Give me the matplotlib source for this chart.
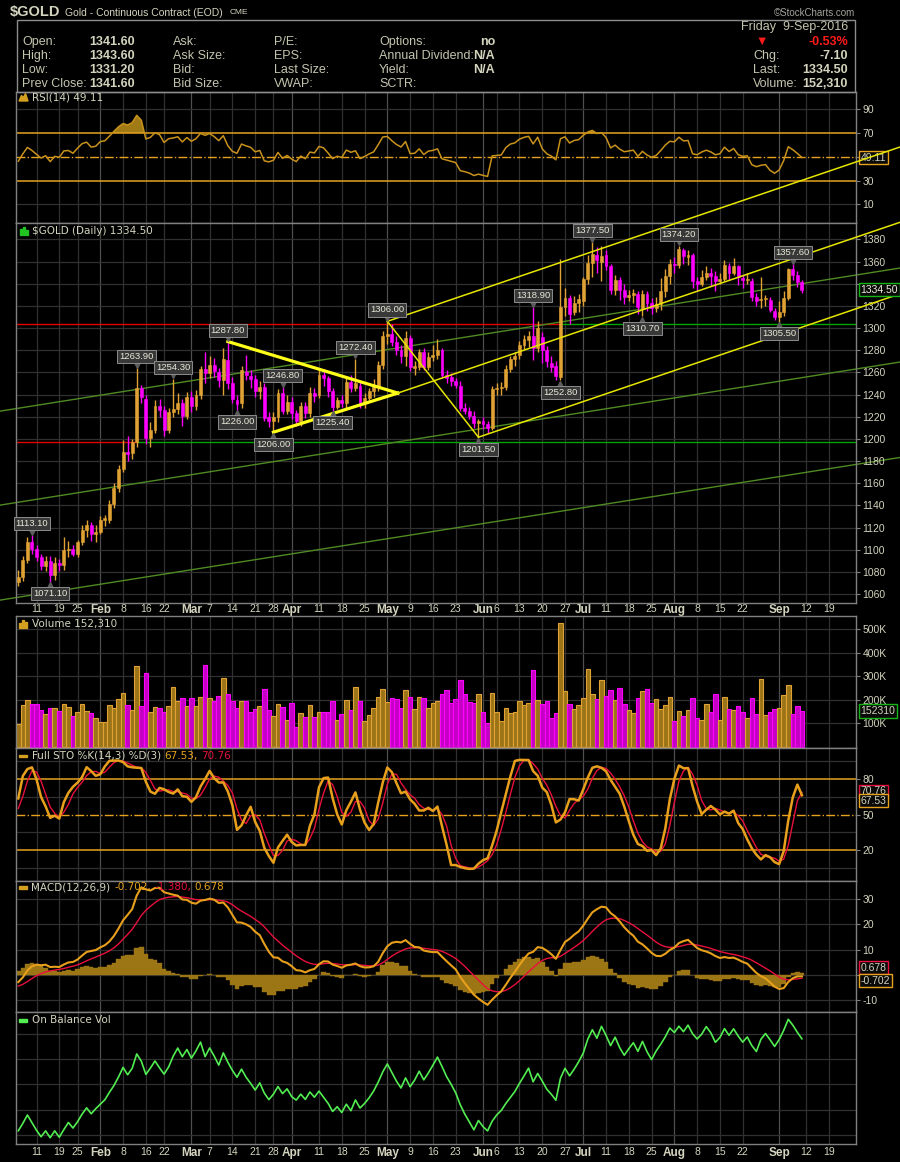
import numpy as np
import pandas as pd
import matplotlib
matplotlib.use('Agg')
import matplotlib.pyplot as plt
import matplotlib.transforms as mtransforms
from matplotlib import font_manager
from matplotlib.patches import Rectangle, Polygon
from matplotlib.text import Annotation
from matplotlib.ticker import MaxNLocator

# ---------------- data ----------------
HOLIDAYS = ['2016-01-18', '2016-02-15', '2016-03-25', '2016-05-30', '2016-07-04', '2016-09-05']

# daily candles, 5-Jan-2016 .. 9-Sep-2016
OPEN = [1071, 1075, 1091, 1107, 1101, 1093, 1085, 1090, 1077, 1088, 1086, 1100, 1101, 1096, 1107, 1118, 1122, 1114,
        1116, 1127, 1127, 1141, 1156, 1173, 1188, 1187, 1197, 1246, 1236, 1201, 1208, 1230, 1226, 1208, 1224, 1227,
        1232, 1221, 1238, 1230, 1240, 1263, 1259, 1267, 1260, 1253, 1271, 1250, 1235, 1232, 1260, 1257, 1254, 1243,
        1247, 1220, 1216, 1220, 1241, 1225, 1233, 1223, 1216, 1230, 1223, 1241, 1240, 1258, 1255, 1243, 1229, 1235,
        1232, 1251, 1246, 1248, 1232, 1237, 1243, 1248, 1267, 1293, 1295, 1287, 1280, 1275, 1291, 1264, 1265, 1278,
        1265, 1274, 1276, 1280, 1258, 1256, 1252, 1248, 1228, 1225, 1221, 1214, 1216, 1213, 1210, 1245, 1246, 1247,
        1263, 1272, 1276, 1285, 1289, 1293, 1282, 1292, 1280, 1268, 1266, 1256, 1319, 1327, 1314, 1323, 1324, 1344,
        1359, 1366, 1360, 1366, 1356, 1334, 1343, 1334, 1328, 1330, 1331, 1318, 1331, 1323, 1318, 1322, 1333, 1347,
        1358, 1357, 1370, 1364, 1366, 1342, 1340, 1346, 1350, 1347, 1342, 1344, 1356, 1350, 1356, 1345, 1343, 1342,
        1328, 1325, 1326, 1325, 1315, 1310, 1314, 1327, 1353, 1348, 1341.6]
HIGH = [1082, 1094, 1111, 1113.1, 1104, 1096, 1094, 1094, 1093, 1092, 1111, 1108, 1104, 1109, 1122, 1127, 1125, 1122,
        1130, 1131, 1145, 1160, 1176, 1199, 1203, 1200, 1263.9, 1249, 1240, 1215, 1235, 1236, 1230, 1228, 1254.3, 1241,
        1236, 1242, 1243, 1244, 1266, 1278, 1275, 1273, 1264, 1282, 1287.8, 1256, 1240, 1266, 1276, 1262, 1258, 1252,
        1250, 1224, 1224, 1245, 1246.8, 1240, 1238, 1226, 1233, 1233, 1247, 1246, 1262, 1263, 1257, 1246, 1238, 1240,
        1256, 1258, 1272.4, 1251, 1241, 1246, 1254, 1270, 1297, 1306, 1304, 1293, 1285, 1297, 1294, 1270, 1281, 1282,
        1278, 1285, 1290, 1282, 1262, 1259, 1255, 1252, 1232, 1229, 1225, 1218, 1220, 1216, 1248, 1250, 1251, 1267,
        1275, 1278, 1288, 1294, 1297, 1318.9, 1306, 1296, 1284, 1275, 1270, 1362.6, 1336, 1330, 1329, 1331, 1346, 1366,
        1377.5, 1373, 1374, 1370, 1358, 1348, 1346, 1340, 1334, 1335, 1333, 1334, 1333, 1327, 1328, 1345, 1353, 1362,
        1364, 1374.2, 1372, 1370, 1368, 1346, 1352, 1356, 1354, 1351, 1350, 1361, 1359, 1363, 1357, 1348, 1350, 1345,
        1332, 1346, 1330, 1328, 1318, 1324, 1333, 1354, 1357.6, 1351, 1343.6]
LOW = [1067, 1072, 1088, 1096, 1090, 1082, 1081, 1071.1, 1073, 1081, 1082, 1093, 1094, 1093, 1104, 1111, 1108, 1107,
       1114, 1121, 1124, 1138, 1152, 1170, 1180, 1182, 1193, 1232, 1195, 1193, 1205, 1220, 1203, 1205, 1220, 1222,
       1212, 1218, 1224, 1226, 1236, 1250, 1255, 1256, 1247, 1240, 1245, 1232, 1226, 1228, 1253, 1246, 1238, 1236,
       1216, 1211, 1206, 1215, 1222, 1222, 1218, 1212, 1212, 1219, 1220, 1233, 1237, 1248, 1238, 1225.4, 1227, 1229,
       1228, 1242, 1243, 1228, 1228, 1234, 1238, 1243, 1263, 1286, 1284, 1276, 1268, 1266, 1261, 1258, 1262, 1262,
       1262, 1270, 1272, 1255, 1250, 1248, 1246, 1225, 1222, 1218, 1210, 1201.5, 1209, 1205, 1208, 1240, 1240, 1244,
       1260, 1266, 1272, 1281, 1283, 1271, 1278, 1268, 1265, 1260, 1253.5, 1252.8, 1311, 1304, 1312, 1314, 1320, 1340,
       1346, 1350, 1342, 1352, 1331, 1330, 1325, 1322, 1324, 1323, 1313, 1310.7, 1315, 1313, 1314, 1316, 1328, 1340,
       1350, 1354, 1358, 1357, 1336, 1333, 1338, 1343, 1338, 1333, 1340, 1342, 1343, 1348, 1339, 1336, 1340, 1324,
       1320, 1318, 1320, 1314, 1307, 1305.5, 1311, 1325, 1343, 1337, 1331.2]
CLOSE = [1075.5, 1091, 1107, 1101, 1093, 1085, 1090, 1077, 1088, 1086, 1100, 1101, 1096, 1107, 1118, 1122, 1114, 1116,
         1127, 1129, 1141, 1156, 1173, 1188, 1186, 1197, 1246, 1238, 1201, 1208, 1230, 1226, 1208, 1224, 1227, 1232,
         1221, 1238, 1230, 1240, 1263, 1259, 1267, 1261, 1253, 1272, 1250, 1236, 1231, 1262, 1257.5, 1254, 1243, 1247,
         1219, 1216, 1220, 1241, 1225, 1233, 1223, 1216, 1230, 1223, 1241, 1239, 1258, 1255, 1243, 1229, 1235, 1232,
         1251, 1246, 1250, 1232, 1237, 1243, 1248, 1267, 1293, 1295, 1287, 1280, 1275, 1291, 1265, 1266, 1278, 1265,
         1274, 1276, 1280, 1258, 1255, 1252, 1249, 1228, 1225, 1221, 1214, 1216, 1213, 1210, 1245, 1246, 1247, 1263,
         1272, 1275, 1285, 1290, 1293, 1282, 1300, 1280, 1270, 1265, 1257, 1319, 1327, 1313, 1323, 1326, 1344, 1359,
         1367, 1361, 1365, 1356, 1334, 1343, 1334, 1328, 1330, 1332, 1319, 1331, 1323, 1318, 1322, 1333, 1347, 1358,
         1357, 1371, 1365, 1366, 1342, 1340, 1346, 1350, 1347, 1342, 1344, 1357, 1350, 1356, 1346, 1343, 1344, 1328,
         1324, 1326, 1327, 1316, 1310, 1314, 1327, 1353, 1348, 1341.6, 1334.5]
VOLUME_K = [96, 177, 198, 181, 181, 155, 141, 164, 164, 152, 181, 170, 132, 148, 181, 152, 142, 121, 106, 106, 177, 164,
            202, 229, 177, 155, 342, 172, 316, 150, 170, 164, 150, 172, 256, 193, 206, 172, 206, 172, 210, 346, 206, 193,
            215, 291, 223, 193, 164, 193, 193, 146, 159, 172, 244, 155, 130, 181, 168, 113, 185, 83, 142, 125, 177, 125,
            146, 146, 146, 193, 113, 138, 198, 155, 256, 193, 109, 134, 164, 210, 244, 189, 206, 202, 164, 240, 210, 159,
            210, 206, 164, 185, 193, 223, 240, 185, 202, 283, 223, 190, 185, 223, 148, 100, 228, 150, 108, 164, 142, 146,
            193, 177, 185, 325, 198, 181, 193, 121, 142, 525, 236, 181, 159, 177, 206, 333, 223, 202, 283, 215, 243, 200,
            250, 180, 156, 142, 206, 238, 246, 188, 205, 160, 177, 210, 108, 151, 130, 156, 206, 124, 115, 180, 148, 226,
            116, 210, 161, 157, 172, 146, 124, 206, 140, 290, 137, 148, 160, 164, 220, 263, 140, 172, 152.31]

# weeks before the window (2-Nov-2015 .. 4-Jan-2016), only used to prime the indicators
WARM_CLOSE = [1136, 1116, 1104, 1107, 1088, 1093, 1090, 1085, 1084, 1081, 1084, 1068, 1068, 1078, 1076, 1067, 1074,
              1071, 1057, 1065, 1068, 1054, 1062, 1084, 1075, 1076, 1076, 1072, 1076, 1063, 1061, 1076, 1050, 1065,
              1081, 1074, 1069, 1076, 1069, 1077, 1060, 1060, 1075]
WARM_HIGH = [1086, 1079, 1083, 1080, 1079, 1078, 1068, 1080, 1073, 1068, 1083, 1084, 1077, 1079, 1079, 1080, 1078,
             1064, 1084]
WARM_LOW = [1071, 1066, 1071, 1068, 1067, 1058, 1058, 1057, 1047, 1046, 1064, 1071, 1067, 1068, 1066, 1067, 1059,
            1058, 1063]

# price tags on the chart (candle index)
HIGH_TAGS = [3, 26, 34, 46, 58, 74, 81, 113, 126, 145, 170]
LOW_TAGS = [7, 48, 56, 69, 101, 119, 137, 167]

# drawn annotations (candle index, price)
LEVELS = [1304.0, 1197.5]
GREEN_LINES = [((-4.0, 1225.0), (193.5, 1354.1)),
               ((-4.0, 1140.2), (193.5, 1269.3)),
               ((-4.0, 1054.5), (193.5, 1183.2))]
APEX = (83.3, 1241.3)
CHANNEL_SLOPE = 1.398
LINE_END = 193.5

# legend values as printed on the chart
RSI_LAST = 49.11
STO_K_LAST, STO_D_LAST = 67.53, 70.76
MACD_LAST, SIGNAL_LAST, HIST_LAST = -0.702, -1.380, 0.678

# ---------------- look ----------------
W, H = 900, 1162
BG = 'black'
FRAME = '#808080'
GRID = '#303030'
GRID_M = '#4e4e4e'
TXT = '#d4d4be'
LBL = '#c4c4ae'
UP = '#e0a234'
DOWN = '#ff00ff'
UP_FILL = '#9c7418'
DOWN_FILL = '#c400c4'
GOLD = '#e6a21c'
RED = '#e8103c'
XMIN, XMAX = -0.5, 183.8
LEFT, RIGHT = 16, 855.7

names = {f.name for f in font_manager.fontManager.ttflist}
NARROW = 'Liberation Sans Narrow' if 'Liberation Sans Narrow' in names else 'Liberation Sans'
plt.rcParams['font.family'] = [NARROW, 'DejaVu Sans']

days = pd.bdate_range('2016-01-05', '2016-09-30')
days = days[~days.isin(pd.to_datetime(HOLIDAYS))]
n = len(CLOSE)
x = np.arange(n)
o, hi, lo, c = (np.array(a, dtype=float) for a in (OPEN, HIGH, LOW, CLOSE))
vol = np.array(VOLUME_K, dtype=float)
prev = np.concatenate([[WARM_CLOSE[-1]], c[:-1]])
up = c >= prev
col = np.where(up, UP, DOWN)

# ---------------- indicators ----------------
s_all = pd.Series(WARM_CLOSE + CLOSE, dtype=float)
d = s_all.diff()
g = d.clip(lower=0).ewm(alpha=1 / 14, adjust=False).mean()
l_ = (-d).clip(lower=0).ewm(alpha=1 / 14, adjust=False).mean()
rsi = (100 - 100 / (1 + g / l_)).to_numpy()[-n:]

macd_s = s_all.ewm(span=12, adjust=False).mean() - s_all.ewm(span=26, adjust=False).mean()
sig_s = macd_s.ewm(span=9, adjust=False).mean()
macd = macd_s.to_numpy()[-n:]
sig = sig_s.to_numpy()[-n:]
hist = macd - sig

hh = pd.Series(WARM_HIGH + HIGH, dtype=float).rolling(14).max()
ll = pd.Series(WARM_LOW + LOW, dtype=float).rolling(14).min()
cc = pd.Series(WARM_CLOSE[-len(WARM_HIGH):] + CLOSE, dtype=float)
full_k = (100 * (cc - ll) / (hh - ll)).rolling(3).mean()
full_d = full_k.rolling(3).mean()
sto_k = full_k.to_numpy()[-n:]
sto_d = full_d.to_numpy()[-n:]

obv = np.cumsum(np.sign(c - prev) * vol)

# ---------------- date ticks ----------------
month_pos, week_pos = [], []
for i in range(1, len(days)):
    if i > XMAX - 2:
        break
    if days[i].month != days[i - 1].month:
        month_pos.append(i)
    elif days[i].isocalendar()[1] != days[i - 1].isocalendar()[1]:
        week_pos.append(i)
# a week label gives way to a month label that sits close to it
week_pos = [w for w in week_pos if all((w - m) >= 3 or (m - w) >= 4 for m in month_pos)]
ticks = sorted([(p, True) for p in month_pos] + [(p, False) for p in week_pos])
tick_pos = [p for p, _ in ticks]
tick_lab = [days[p].strftime('%b') if m else str(days[p].day) for p, m in ticks]

# ---------------- figure ----------------
fig = plt.figure(figsize=(W / 100, H / 100), dpi=100, facecolor=BG)
PX = mtransforms.Affine2D().scale(1 / W, -1 / H).translate(0, 1) + fig.transFigure


def ftext(xp, yp, s, **kw):
    return fig.text(xp, yp, s, transform=PX, **kw)


def panel(y0, y1, ylim):
    ax = fig.add_axes([LEFT / W, 1 - y1 / H, (RIGHT - LEFT) / W, (y1 - y0) / H])
    ax.set_facecolor(BG)
    ax.set_xlim(XMIN, XMAX)
    ax.set_ylim(*ylim)
    for sp in ax.spines.values():
        sp.set_color(FRAME)
        sp.set_linewidth(1.0)
    ax.yaxis.tick_right()
    ax.tick_params(axis='y', colors=FRAME, labelcolor=TXT, labelsize=7.5, length=3, width=0.8, pad=2)
    ax.tick_params(axis='x', length=0, labelbottom=False)
    for p, m in ticks:
        ax.axvline(p, color=GRID_M if m else GRID, lw=0.9, zorder=0)
    return ax


def hgrid(ax, vals):
    for v in vals:
        ax.axhline(v, color=GRID, lw=0.9, zorder=0)


def right_ticks(ax, vals, labels=None, hidden=()):
    ax.set_yticks(vals)
    labs = labels if labels is not None else [f'{v:g}' for v in vals]
    ax.set_yticklabels(['' if v in hidden else s for v, s in zip(vals, labs)])


def date_labels(ax, pad):
    ax.set_xticks(tick_pos)
    ax.set_xticklabels(tick_lab)
    ax.tick_params(axis='x', labelbottom=True, labelsize=7.5, labelcolor=TXT, pad=pad)
    for t, (_, m) in zip(ax.get_xticklabels(), ticks):
        if m:
            t.set_fontweight('bold')
            t.set_fontsize(8.5)


def value_box(ax, y, s, edge, tcol=TXT, z=10, dy=0):
    ax.annotate(s, xy=(1, y), xycoords=('axes fraction', 'data'), xytext=(3.5, dy),
                textcoords='offset points', ha='left', va='center', fontsize=7.5, color=tcol,
                bbox=dict(boxstyle='square,pad=0.15', fc='#0a0a0a', ec=edge, lw=1.0),
                annotation_clip=False, zorder=z)


def title(ypx, parts):
    t = ftext(31.5, ypx, parts[0][0], color=parts[0][1], fontsize=7.5, family='DejaVu Sans', va='center')
    for s, cl in parts[1:]:
        a = Annotation(s, xy=(1, 0.5), xycoords=t, xytext=(2.5, 0), textcoords='offset points',
                       va='center', ha='left', color=cl, fontsize=7.5, family='DejaVu Sans')
        fig.add_artist(a)
        t = a


# ---- header ----
ftext(10, 12, '$GOLD', fontsize=10.5, fontweight='bold', color=TXT, va='center', family='Liberation Sans')
ftext(65, 12.5, 'Gold - Continuous Contract (EOD)', fontsize=7.5, color=TXT, va='center', family='Liberation Sans')
ftext(230, 13, 'CME', fontsize=6, color=TXT, va='center', family='Liberation Sans')
ftext(855, 12.5, '\u00a9StockCharts.com', fontsize=7, color='#a4a49c', ha='right', va='center', family='Liberation Sans')
fig.add_artist(Rectangle((17, 20), 838, 71.7, transform=PX, fill=False, ec='#8c8c8c', lw=1))

rows = [42, 56, 70, 84]
hdr = dict(fontsize=9, va='center', family='Liberation Sans')
col1 = ['Open:', 'High:', 'Low:', 'Prev Close:']
val1 = [f'{OPEN[-1]:.2f}', f'{HIGH[-1]:.2f}', f'{LOW[-1]:.2f}', f'{CLOSE[-2]:.2f}']
col2 = ['Ask:', 'Ask Size:', 'Bid:', 'Bid Size:']
col3 = ['P/E:', 'EPS:', 'Last Size:', 'VWAP:']
col4 = ['Options:', 'Annual Dividend:', 'Yield:', 'SCTR:']
val4 = ['no', 'N/A', 'N/A', '']
for k, yy in enumerate(rows):
    ftext(22, yy, col1[k], color=LBL, **hdr)
    ftext(135, yy, val1[k], color=TXT, ha='right', fontweight='bold', **hdr)
    ftext(173, yy, col2[k], color=LBL, **hdr)
    ftext(274, yy, col3[k], color=LBL, **hdr)
    ftext(379, yy, col4[k], color=LBL, **hdr)
    ftext(495, yy, val4[k], color=TXT, ha='right', fontweight='bold', **hdr)
chg = CLOSE[-1] - CLOSE[-2]
ftext(848, 27, 'Friday  9-Sep-2016', color=LBL, ha='right', **hdr)
ftext(762, 42, '\u25bc', color='#ff1a1a', ha='center', fontsize=9, va='center', family=['Liberation Sans', 'DejaVu Sans'])
ftext(848, 42, f'{100 * chg / CLOSE[-2]:.2f}%', color='#ff1a1a', ha='right', fontweight='bold', **hdr)
ftext(753, 56, 'Chg:', color=LBL, **hdr)
ftext(848, 56, f'{chg:.2f}', color=TXT, ha='right', fontweight='bold', **hdr)
ftext(753, 70, 'Last:', color=LBL, **hdr)
ftext(848, 70, f'{CLOSE[-1]:.2f}', color=TXT, ha='right', fontweight='bold', **hdr)
ftext(753, 84, 'Volume:', color=LBL, **hdr)
ftext(848, 84, f'{round(VOLUME_K[-1] * 1000):,}', color=TXT, ha='right', fontweight='bold', **hdr)

# ---- RSI ----
ax_rsi = panel(91.7, 222.5, (-5.3, 104.8))
right_ticks(ax_rsi, [10, 30, 50, 70, 90], hidden=(50,))
hgrid(ax_rsi, [10, 90])
ax_rsi.axhline(70, color=GOLD, lw=1.1)
ax_rsi.axhline(30, color=GOLD, lw=1.1)
ax_rsi.axhline(50, color=GOLD, lw=1.0, ls='-.')
ax_rsi.fill_between(x, rsi, 70, where=rsi > 70, interpolate=True, color='#a07a14', lw=0)
ax_rsi.fill_between(x, rsi, 30, where=rsi < 30, interpolate=True, color='#a07a14', lw=0)
ax_rsi.plot(x, rsi, color='#c8921c', lw=1.1)
value_box(ax_rsi, RSI_LAST, f'{RSI_LAST:.2f}', GOLD)
fig.add_artist(Polygon([(19, 101), (21.5, 95.5), (23.5, 97.5), (25.5, 93.5), (28, 101)], closed=True,
                       transform=PX, color='#d4a020'))
title(97.5, [(f'RSI(14) {RSI_LAST:.2f}', TXT)])

# ---- price ----
ax = panel(222.5, 603, (1051.9, 1395.2))
right_ticks(ax, list(range(1060, 1381, 20)), hidden=(1340,))
hgrid(ax, np.arange(1060, 1381, 20))
for lvl in LEVELS:
    cross = int(np.argmax(c > lvl))
    ax.plot([XMIN, cross], [lvl, lvl], color='#e00000', lw=1.0, zorder=1)
    ax.plot([cross, XMAX], [lvl, lvl], color='#00a400', lw=1.0, zorder=1)
for (x0, p0), (x1, p1) in GREEN_LINES:
    ax.plot([x0, x1], [p0, p1], color='#4f8a22', lw=1.0, clip_on=False, zorder=1)
ax.vlines(x, lo, hi, colors=col, lw=1.0, zorder=3)
ax.bar(x, np.maximum(np.abs(c - o), 0.8), bottom=np.minimum(o, c), width=0.64, color=col, edgecolor=col,
       lw=0.4, zorder=3)
# triangle and channel lines
ax.plot([HIGH_TAGS[3], APEX[0]], [HIGH[HIGH_TAGS[3]], APEX[1]], color='#ffff1a', lw=2.3, zorder=4)
ax.plot([LOW_TAGS[2], APEX[0]], [LOW[LOW_TAGS[2]], APEX[1]], color='#ffff1a', lw=2.3, zorder=4)
top_i, bot_i = HIGH_TAGS[6], LOW_TAGS[4]
ax.plot([top_i, bot_i], [HIGH[top_i], LOW[bot_i]], color='#e6e600', lw=1.1, zorder=4)
for (ax0, ap0) in [(top_i, HIGH[top_i]), APEX, (bot_i, LOW[bot_i])]:
    ax.plot([ax0, LINE_END], [ap0, ap0 + CHANNEL_SLOPE * (LINE_END - ax0)], color='#e6e600', lw=1.1,
            clip_on=False, zorder=4)

tag_box = dict(boxstyle='square,pad=0.22', fc='#383838', ec='#8c8c8c', lw=0.7)
up_tri = mtransforms.offset_copy(ax.transData, fig=fig, x=0, y=3.2, units='points')
dn_tri = mtransforms.offset_copy(ax.transData, fig=fig, x=0, y=-3.2, units='points')
for i in HIGH_TAGS:
    ax.plot(i, HIGH[i], marker='v', ms=6, color='#5c5c5c', transform=up_tri, zorder=5, clip_on=False)
    ax.annotate(f'{HIGH[i]:.2f}', xy=(i, HIGH[i]), xytext=(0, 8.2), textcoords='offset points', ha='center',
                va='center', fontsize=6.8, color='#e8e8d8', bbox=tag_box, zorder=6, annotation_clip=False)
for i in LOW_TAGS:
    ax.plot(i, LOW[i], marker='^', ms=6, color='#5c5c5c', transform=dn_tri, zorder=5, clip_on=False)
    ax.annotate(f'{LOW[i]:.2f}', xy=(i, LOW[i]), xytext=(0, -8.6), textcoords='offset points', ha='center',
                va='center', fontsize=6.8, color='#e8e8d8', bbox=tag_box, zorder=6, annotation_clip=False)
value_box(ax, CLOSE[-1], f'{CLOSE[-1]:.2f}', '#14b414', tcol='#ececdc')
date_labels(ax, 1.0)
for xx, hh_ in [(20, 6), (23, 8), (26, 5)]:
    fig.add_artist(Rectangle((xx, 234.5 - hh_), 2, hh_, transform=PX, color='#22c422'))
title(230.5, [(f'$GOLD (Daily) {CLOSE[-1]:.2f}', TXT)])

# ---- volume ----
ax_v = panel(616.3, 748, (-5, 555))
right_ticks(ax_v, [100, 200, 300, 400, 500], ['100K', '200K', '300K', '400K', '500K'])
hgrid(ax_v, [100, 200, 300, 400, 500])
ax_v.bar(x, vol, width=1.0, color=np.where(up, UP_FILL, DOWN_FILL), edgecolor=col, lw=0.8, zorder=2)
value_box(ax_v, vol[-1], f'{round(vol[-1] * 1000)}', '#14b414')
for xx, hh_ in [(19, 5), (22, 8), (25, 6)]:
    fig.add_artist(Rectangle((xx, 627.5 - hh_), 2, hh_, transform=PX, color='#d4a020'))
title(623.5, [(f'Volume {round(vol[-1] * 1000):,}', TXT)])

# ---- full stochastics ----
ax_s = panel(748, 880.7, (-5.9, 106.2))
right_ticks(ax_s, [20, 50, 80])
hgrid(ax_s, [5, 35, 65, 95])
ax_s.axhline(80, color=GOLD, lw=1.1)
ax_s.axhline(20, color=GOLD, lw=1.1)
ax_s.axhline(50, color=GOLD, lw=1.0, ls='-.')
ax_s.plot(x, sto_d, color=RED, lw=1.0)
ax_s.plot(x, sto_k, color='#e8a01c', lw=1.8)
value_box(ax_s, STO_D_LAST, f'{STO_D_LAST:.2f}', RED, dy=-0.8)
value_box(ax_s, STO_K_LAST, f'{STO_K_LAST:.2f}', GOLD, z=11, dy=-5)
fig.add_artist(Rectangle((19, 754.5), 8, 2.5, transform=PX, color='#d4a020'))
title(755.7, [('Full STO %K(14,3) %D(3)', TXT), (f'{STO_K_LAST:.2f},', GOLD), (f'{STO_D_LAST:.2f}', RED)])

# ---- MACD ----
ax_m = panel(880.7, 1012.3, (-14.9, 37.4))
right_ticks(ax_m, [-10, 0, 10, 20, 30], hidden=(0,))
hgrid(ax_m, [-10, 0, 10, 20, 30])
ax_m.bar(x, hist, width=1.0, color='#9c7614', edgecolor='#9c7614', lw=0.3, zorder=2)
ax_m.plot(x, sig, color=RED, lw=1.0, zorder=3)
ax_m.plot(x, macd, color='#e8a01c', lw=1.5, zorder=3)
value_box(ax_m, HIST_LAST, f'{HIST_LAST:.3f}', RED, dy=4)
value_box(ax_m, MACD_LAST, f'{MACD_LAST:.3f}', GOLD, z=11, dy=-3)
fig.add_artist(Rectangle((19, 886), 8, 2.5, transform=PX, color='#d4a020'))
title(887.3, [('MACD(12,26,9)', TXT), (f'{MACD_LAST:.3f},', GOLD), (f'{SIGNAL_LAST:.3f},', RED),
              (f'{HIST_LAST:.3f}', GOLD)])

# ---- on balance volume ----
rng = obv.max() - obv.min()
ax_o = panel(1012.3, 1144, (obv.min() - rng * 0.053, obv.max() + rng * 0.059))
ax_o.yaxis.set_major_locator(MaxNLocator(6))
ax_o.tick_params(axis='y', labelright=False, length=0)
for v in ax_o.get_yticks():
    ax_o.axhline(v, color=GRID, lw=0.9, zorder=0)
ax_o.plot(x, obv, color='#52ee52', lw=1.2)
date_labels(ax_o, 2.5)
fig.add_artist(Rectangle((19, 1018.8), 8, 3, transform=PX, color='#52ee52'))
title(1020, [('On Balance Vol', TXT)])

fig.savefig('out.png', dpi=100, facecolor=BG)
